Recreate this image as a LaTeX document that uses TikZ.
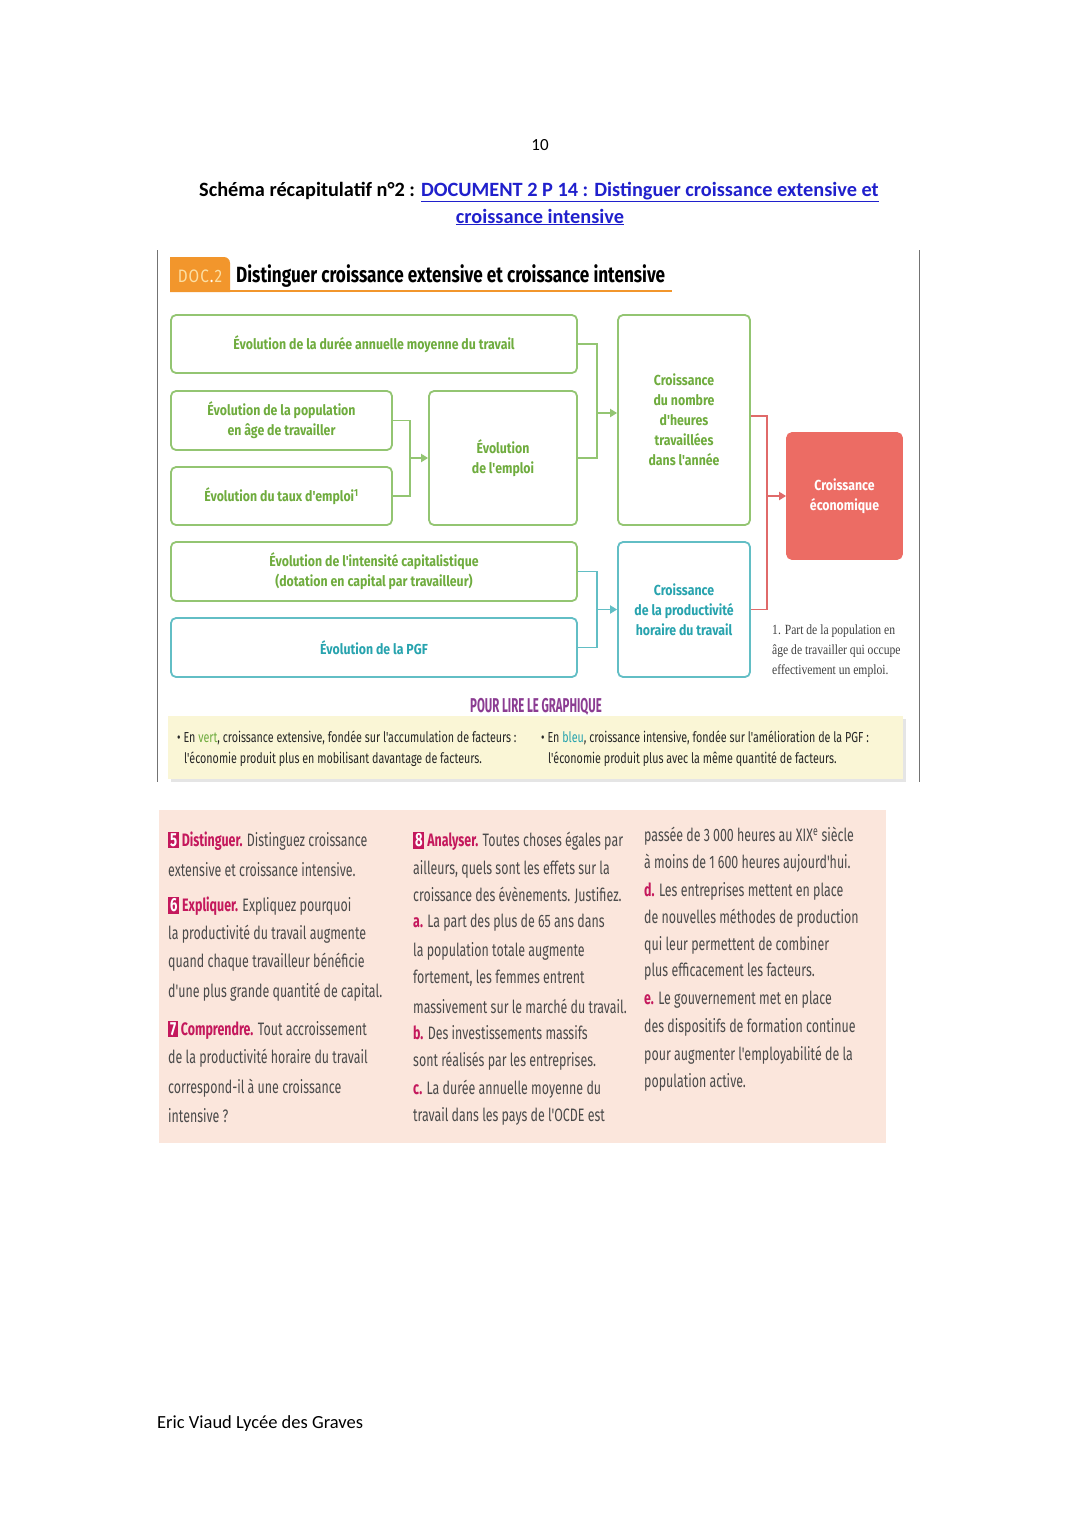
\documentclass[tikz,border=0pt]{standalone}
\usepackage{fontspec}
\setmainfont{Carlito}
\newfontfamily\dfont[FakeStretch=0.85]{Fira Sans}
\newfontfamily\tfont[FakeStretch=0.78]{Fira Sans}
\newfontfamily\pfont[FakeStretch=0.57]{Fira Sans}
\newfontfamily\efont[FakeStretch=0.69]{Fira Sans}
\newfontfamily\lfont[FakeStretch=0.74]{Fira Sans}
\newfontfamily\nfont[FakeStretch=0.83]{Liberation Serif}
\usetikzlibrary{arrows.meta}
\definecolor{gborder}{HTML}{93C572}
\definecolor{gtext}{HTML}{6FAC3E}
\definecolor{tborder}{HTML}{62BEC5}
\definecolor{ttext}{HTML}{27A3AE}
\definecolor{redfill}{HTML}{EC6C64}
\definecolor{redline}{HTML}{E06A6A}
\definecolor{orangetab}{HTML}{F2962C}
\definecolor{tabtext}{HTML}{FCDFA4}
\definecolor{purp}{HTML}{8B3C92}
\definecolor{mag}{HTML}{C4185C}
\definecolor{linkblue}{HTML}{2020CC}
\definecolor{extext}{HTML}{4A4A4A}
\definecolor{legfill}{HTML}{FAF6D6}
\definecolor{pinkbg}{HTML}{FBE6DC}
\newcommand\exbadge[1]{{\setlength{\fboxsep}{1.8pt}\colorbox{mag}{\color{white}\bfseries\fontsize{19}{20}\selectfont #1}}}
\newcommand\exkw[1]{{\color{mag}\bfseries #1}}
\tikzset{
  gbox/.style={draw=gborder, line width=1.8pt, rounded corners=5pt, fill=white, text=gtext,
    font=\dfont\bfseries\fontsize{14.5}{20}\selectfont, align=center, inner sep=0pt},
  tbox/.style={gbox, draw=tborder, text=ttext},
  rbox/.style={gbox, draw=redfill, fill=redfill, text=white},
  gline/.style={draw=gborder, line width=1.8pt},
  tline/.style={draw=tborder, line width=1.8pt},
  rline/.style={draw=redline, line width=1.8pt},
  tip/.style={-{Triangle[width=8pt,length=7pt]}},
  ex/.style={anchor=west, inner sep=0pt, font=\efont\fontsize{18}{22}\selectfont, text=extext},
  leg/.style={anchor=west, inner sep=0pt, font=\lfont\fontsize{14.5}{18}\selectfont, text=black!85},
  note/.style={anchor=west, inner sep=0pt, font=\nfont\fontsize{14}{16}\selectfont, text=black!75},
  page/.style={inner sep=0pt, font=\fontsize{18}{22}\selectfont},
}
\begin{document}
\begin{tikzpicture}[x=1pt,y=-1pt]
\useasboundingbox (0,0) rectangle (1080,1527);
\fill[white] (0,0) rectangle (1080,1527);

% page header
\node[page, font=\fontsize{17}{20}\selectfont] (pnum) at (540,145) {10};
\node[page, font=\bfseries\fontsize{20.3}{24}\selectfont] (h1) at (539,192)
  {Schéma récapitulatif n°2 : {\color{linkblue}\underline{DOCUMENT 2 P 14 : Distinguer croissance extensive et}}};
\node[page, font=\bfseries\fontsize{20.3}{24}\selectfont, text=linkblue] (h2) at (540,217)
  {\underline{croissance intensive}};

% frame of the document picture
\draw[black!55, line width=1pt] (157,250) -- (157,782);
\draw[black!55, line width=1pt] (919,250) -- (919,782);

% DOC.2 title
\fill[orangetab] (170,292) -- (170,257) -- (224,257) to[out=0,in=90] (230,263) -- (230,292) -- cycle;
\node[inner sep=0pt, font=\dfont\fontsize{18}{22}\selectfont, text=tabtext] (doc) at (200,276) {D\kern1ptO\kern1ptC\kern1pt{\color{white}.}\kern1pt2};
\node[anchor=west, inner sep=0pt, font=\tfont\bfseries\fontsize{22}{26}\selectfont] (title) at (236,276)
  {Distinguer croissance extensive et croissance intensive};
\draw[orangetab, line width=2.5pt] (170,291) -- (672,291);

% boxes
\node[gbox, minimum width=406pt, minimum height=58pt] (b1) at (374,344)
  {Évolution de la durée annuelle moyenne du travail};
\node[gbox, minimum width=221pt, minimum height=59pt] (b2) at (281.5,420.5)
  {Évolution de la population\\en âge de travailler};
\node[gbox, minimum width=221pt, minimum height=58pt] (b3) at (281.5,496)
  {Évolution du taux d'emploi\textsuperscript{1}};
\node[gbox, minimum width=148pt, minimum height=134pt] (b4) at (503,458)
  {Évolution\\de l'emploi};
\node[gbox, minimum width=132pt, minimum height=210pt] (b5) at (684,420)
  {Croissance\\du nombre\\d'heures\\travaillées\\dans l'année};
\node[gbox, minimum width=406pt, minimum height=59pt] (b6) at (374,571.5)
  {Évolution de l'intensité capitalistique\\(dotation en capital par travailleur)};
\node[tbox, minimum width=406pt, minimum height=59pt] (b7) at (374,647.5)
  {Évolution de la PGF};
\node[tbox, minimum width=132pt, minimum height=135pt] (b8) at (684,609.5)
  {Croissance\\de la productivité\\horaire du travail};
\node[rbox, minimum width=115pt, minimum height=126pt] (b9) at (844.5,496)
  {Croissance\\économique};

% connectors
\coordinate (j1) at (597,413);
\coordinate (j2) at (410,458);
\coordinate (j3) at (767,496);
\coordinate (j4) at (597,609.5);
\draw[gline] (b1.east) -| (j1) |- (b4.east);
\draw[gline, tip] (j1) -- (b5.west |- j1);
\draw[gline] (b2.east) -| (j2) |- (b3.east);
\draw[gline, tip] (j2) -- (b4.west |- j2);
\draw[rline] (b5.east |- 0,416) -| (j3) |- (b8.east);
\draw[rline, tip] (j3) -- (b9.west |- j3);
\draw[tline] (b6.east) -| (j4) |- (b7.east);
\draw[tline, tip] (j4) -- (b8.west |- j4);

% footnote
\node[note] (n1) at (772,631) {1. Part de la population en};
\node[note] (n2) at (772,651) {âge de travailler qui occupe};
\node[note] (n3) at (772,671) {effectivement un emploi.};

% legend
\node[inner sep=0pt, font=\pfont\bfseries\fontsize{20}{22}\selectfont, text=purp] (pour) at (536,707) {POUR LIRE LE GRAPHIQUE};
\fill[black!10] (171,719) rectangle (906,782);
\fill[legfill] (168,716) rectangle (903,779);
\node[leg] (l1) at (177,738) {• En {\color{gtext}vert}, croissance extensive, fondée sur l'accumulation de facteurs :};
\node[leg] (l2) at (184,759) {l'économie produit plus en mobilisant davantage de facteurs.};
\node[leg] (l3) at (541,738) {• En {\color{ttext}bleu}, croissance intensive, fondée sur l'amélioration de la PGF :};
\node[leg] (l4) at (548,759) {l'économie produit plus avec la même quantité de facteurs.};

% exercises
\fill[pinkbg] (159,810) rectangle (886,1143);
\node[ex] (c1a) at (168,841) {\exbadge{5}\,\exkw{Distinguer.} Distinguez croissance};
\node[ex] (c1b) at (168,870) {extensive et croissance intensive.};
\node[ex] (c1c) at (168,906) {\exbadge{6}\,\exkw{Expliquer.} Expliquez pourquoi};
\node[ex] (c1d) at (168,934) {la productivité du travail augmente};
\node[ex] (c1e) at (168,962) {quand chaque travailleur bénéficie};
\node[ex] (c1f) at (168,992) {d'une plus grande quantité de capital.};
\node[ex] (c1g) at (168,1030) {\exbadge{7}\,\exkw{Comprendre.} Tout accroissement};
\node[ex] (c1h) at (168,1058) {de la productivité horaire du travail};
\node[ex] (c1i) at (168,1088) {correspond-il à une croissance};
\node[ex] (c1j) at (168,1116) {intensive ?};

\node[ex] (c2a) at (413,841) {\exbadge{8}\,\exkw{Analyser.} Toutes choses égales par};
\node[ex] (c2b) at (413,869) {ailleurs, quels sont les effets sur la};
\node[ex] (c2c) at (413,896) {croissance des évènements. Justifiez.};
\node[ex] (c2d) at (413,923) {\exkw{a.} La part des plus de 65 ans dans};
\node[ex] (c2e) at (413,951) {la population totale augmente};
\node[ex] (c2f) at (413,978) {fortement, les femmes entrent};
\node[ex] (c2g) at (413,1006) {massivement sur le marché du travail.};
\node[ex] (c2h) at (413,1033) {\exkw{b.} Des investissements massifs};
\node[ex] (c2i) at (413,1061) {sont réalisés par les entreprises.};
\node[ex] (c2j) at (413,1089) {\exkw{c.} La durée annuelle moyenne du};
\node[ex] (c2k) at (413,1116) {travail dans les pays de l'OCDE est};

\node[ex] (c3a) at (644,836) {passée de 3\,000 heures au XIX\textsuperscript{e} siècle};
\node[ex] (c3b) at (644,863) {à moins de 1\,600 heures aujourd'hui.};
\node[ex] (c3c) at (644,891) {\exkw{d.} Les entreprises mettent en place};
\node[ex] (c3d) at (644,918) {de nouvelles méthodes de production};
\node[ex] (c3e) at (644,945) {qui leur permettent de combiner};
\node[ex] (c3f) at (644,972) {plus efficacement les facteurs.};
\node[ex] (c3g) at (644,1000) {\exkw{e.} Le gouvernement met en place};
\node[ex] (c3h) at (644,1027) {des dispositifs de formation continue};
\node[ex] (c3i) at (644,1055) {pour augmenter l'employabilité de la};
\node[ex] (c3j) at (644,1082) {population active.};

% footer
\node[page, anchor=west, font=\fontsize{18.5}{22}\selectfont] (foot) at (157,1424) {Eric Viaud Lycée des Graves};
\end{tikzpicture}
\end{document}
